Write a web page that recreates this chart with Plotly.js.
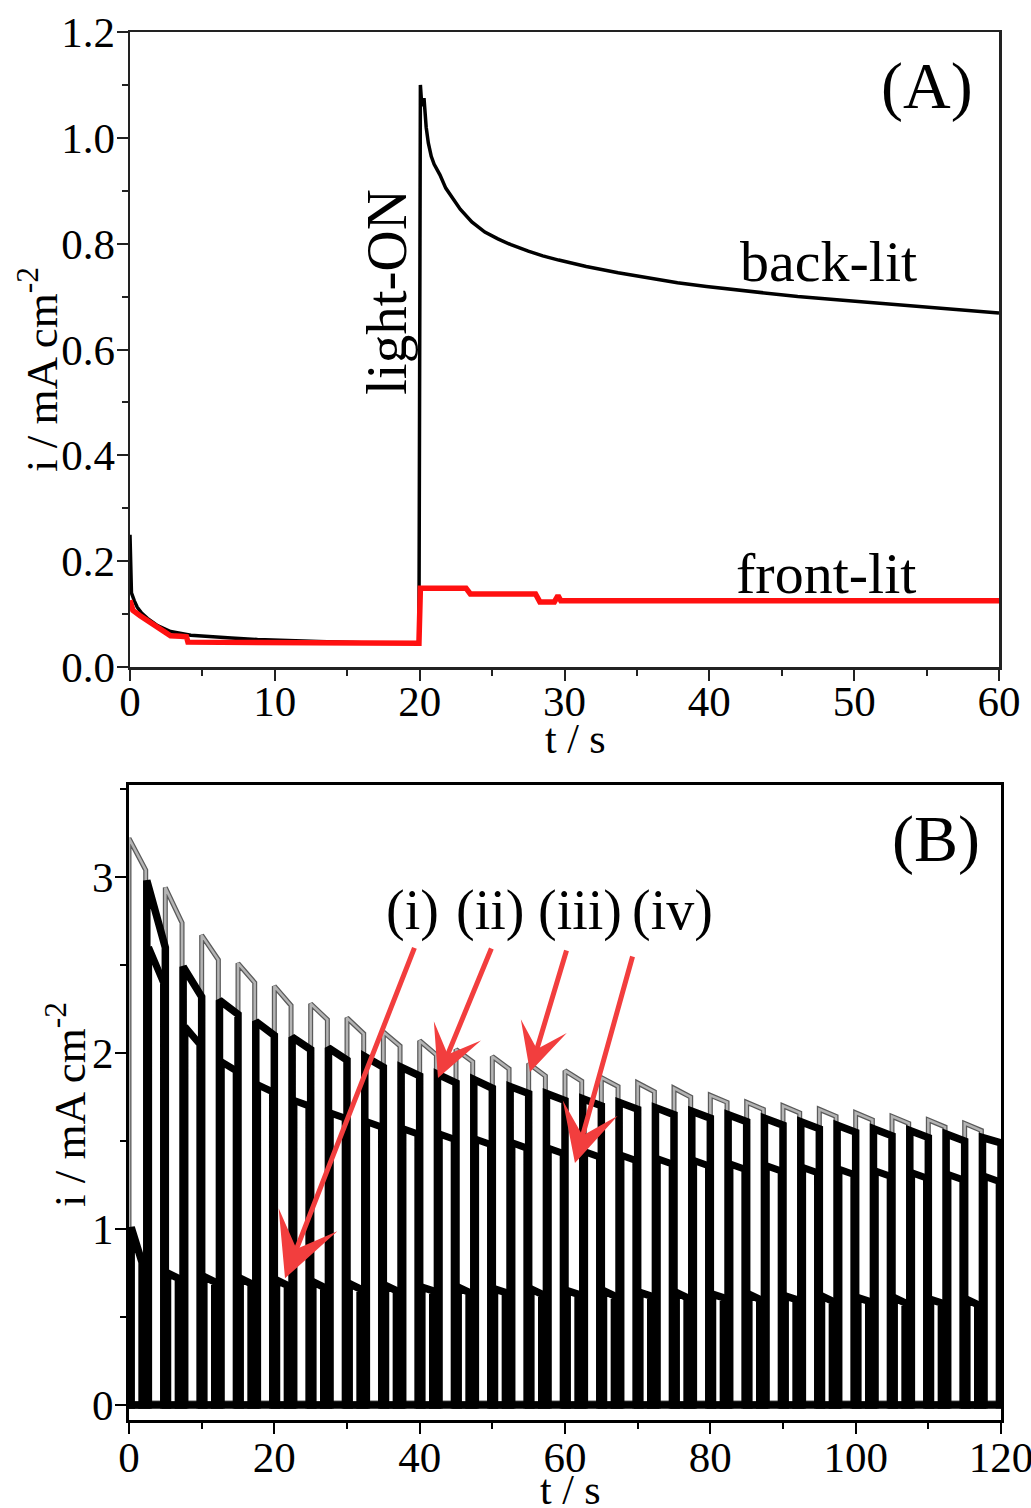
<!DOCTYPE html>
<html>
<head>
<meta charset="utf-8">
<script src="https://cdn.plot.ly/plotly-3.0.1.min.js"></script>
<style>
html,body{margin:0;padding:0;background:#fff;}
#chart{width:1031px;height:1508px;}
</style>
</head>
<body>
<div id="chart"></div>
<script>
// ---------- Panel A data ----------
const backT = [0, 0.1, 0.3, 0.5, 0.8, 1.2, 1.9, 2.8, 4.2, 5.5, 7, 8.8, 10.5, 13, 16, 19.95,
  20.05, 20.15, 20.3, 20.45, 20.6, 20.8, 21.0, 21.4, 21.8, 22.2, 22.8, 23.6, 24.5, 25.4, 26.3,
  27.5, 28.5, 29.6, 31.5, 33.7, 35.7, 37.8, 39.8, 41.9, 44.0, 46.1, 48.8, 51.5, 53.6, 55.7, 57.8, 60];
const backI = [0.25, 0.14, 0.125, 0.113, 0.102, 0.092, 0.078, 0.067, 0.060, 0.057, 0.055, 0.052, 0.050, 0.048, 0.046, 0.046,
  1.10, 1.06, 1.075, 1.02, 0.99, 0.965, 0.95, 0.93, 0.905, 0.888, 0.865, 0.841, 0.822, 0.809, 0.798,
  0.786, 0.777, 0.769, 0.757, 0.745, 0.735, 0.726, 0.719, 0.713, 0.706, 0.700, 0.694, 0.688, 0.683, 0.679, 0.674, 0.669];

const frontT = [0, 0.2, 0.7, 1.5, 2.3, 2.8, 3.5, 3.9, 4.0, 10, 19.95,
  20.05, 23.2, 23.5, 28.0, 28.3, 29.3, 29.55, 29.75, 30.0, 60];
const frontI = [0.126, 0.107, 0.097, 0.083, 0.066, 0.059, 0.058, 0.057, 0.047, 0.046, 0.045,
  0.149, 0.149, 0.138, 0.138, 0.123, 0.123, 0.135, 0.125, 0.125, 0.125];

// ---------- Panel B data (chopped light, 5 s period) ----------
const cycleStart = [0,5,10,15,20,25,30,35,40,45,50,55,60,65,70,75,80,85,90,95,100,105,110,115];
// (iii) grey
const iiiStart = [3.22,2.94,2.67,2.51,2.38,2.28,2.20,2.12,2.07,2.02,1.98,1.94,1.90,1.86,1.83,1.80,1.76,1.72,1.70,1.68,1.66,1.64,1.62,1.60];
const iiiEnd   = [3.04,2.74,2.53,2.40,2.27,2.19,2.11,2.04,1.99,1.95,1.91,1.87,1.84,1.81,1.78,1.75,1.72,1.68,1.66,1.64,1.62,1.60,1.58,1.56];
// (ii) black
const iiStart = [2.98,2.49,2.30,2.18,2.09,2.03,1.98,1.92,1.88,1.85,1.81,1.77,1.74,1.72,1.69,1.67,1.65,1.63,1.61,1.59,1.57,1.56,1.54,1.52];
const iiEnd   = [2.60,2.32,2.22,2.10,2.02,1.96,1.92,1.87,1.83,1.80,1.77,1.73,1.70,1.68,1.65,1.63,1.61,1.59,1.57,1.55,1.53,1.52,1.50,1.49];
// (iv) black
const ivStart = [2.60,2.15,1.95,1.82,1.73,1.66,1.61,1.57,1.54,1.51,1.49,1.46,1.44,1.42,1.40,1.39,1.37,1.36,1.35,1.34,1.33,1.32,1.31,1.30];
const ivEnd   = [2.40,2.05,1.90,1.78,1.70,1.63,1.58,1.54,1.51,1.48,1.46,1.43,1.41,1.39,1.37,1.36,1.34,1.33,1.32,1.31,1.30,1.29,1.28,1.27];
// (i) black
const iStart = [1.01,0.75,0.73,0.72,0.71,0.70,0.69,0.68,0.67,0.67,0.66,0.66,0.65,0.65,0.64,0.64,0.63,0.63,0.62,0.62,0.61,0.61,0.60,0.60];
const iEnd   = [0.81,0.72,0.70,0.69,0.68,0.67,0.66,0.65,0.65,0.64,0.64,0.63,0.63,0.62,0.62,0.61,0.61,0.60,0.60,0.59,0.59,0.58,0.58,0.57];

// timing of each series within a cycle (s)
const iiiDelay = 0.0, iiiLen = 2.3, iiiBase = 0.012;
const iiDelay = 2.45, iiLen = 2.55, iiBase = 0.0;
const ivDelay = 2.7,  ivLen = 2.05, ivBase = 0.0;
const iDelay = 0.3,   iLen = 1.5,   iBase = 0.0;

function pulseTrain(delay, len, tops, ends, base){
  const x=[0], y=[base];
  for(let k=0;k<cycleStart.length;k++){
    const t0 = cycleStart[k]+delay, t1 = t0+len;
    x.push(t0, t0, t1, t1);
    y.push(base, tops[k], ends[k], base);
  }
  x.push(120); y.push(base);
  return {x, y};
}

const pIII = pulseTrain(iiiDelay, iiiLen, iiiStart, iiiEnd, iiiBase);
const pII  = pulseTrain(iiDelay, iiLen, iiStart, iiEnd, iiBase);
const pIV  = pulseTrain(ivDelay, ivLen, ivStart, ivEnd, ivBase);
const pI   = pulseTrain(iDelay, iLen, iStart, iEnd, iBase);

const serif = '"Liberation Serif", "Times New Roman", serif';

const traces = [
  {x: backT, y: backI, xaxis:'x', yaxis:'y', mode:'lines', line:{color:'#000', width:3.5}, hoverinfo:'skip'},
  {x: frontT, y: frontI, xaxis:'x', yaxis:'y', mode:'lines', line:{color:'#ff1010', width:5.5}, hoverinfo:'skip'},

  {x: pIII.x, y: pIII.y, xaxis:'x2', yaxis:'y2', mode:'lines', line:{color:'#5a5a5a', width:5}, hoverinfo:'skip'},
  {x: pIII.x, y: pIII.y, xaxis:'x2', yaxis:'y2', mode:'lines', line:{color:'#b4b4b4', width:2.5}, hoverinfo:'skip'},
  {x: pI.x, y: pI.y, xaxis:'x2', yaxis:'y2', mode:'lines', line:{color:'#000', width:7.5}, hoverinfo:'skip'},
  {x: pIV.x, y: pIV.y, xaxis:'x2', yaxis:'y2', mode:'lines', line:{color:'#000', width:7}, hoverinfo:'skip'},
  {x: pII.x, y: pII.y, xaxis:'x2', yaxis:'y2', mode:'lines', line:{color:'#000', width:7.5}, hoverinfo:'skip'}
];

const axCommon = {
  showline:true, mirror:true, linecolor:'#222', linewidth:2.5,
  ticks:'outside', ticklen:11, tickwidth:2, tickcolor:'#222',
  showgrid:false, zeroline:false, ticklabeloverflow:'allow',
  tickfont:{family:serif, size:43, color:'#000'},
  fixedrange:true
};

const W = 1031, H = 1508;
const px = v => v / W;
const py = v => 1 - v / H;

const layout = {
  width: W, height: H,
  margin:{l:0, r:0, t:0, b:0},
  paper_bgcolor:'#fff', plot_bgcolor:'#fff',
  showlegend:false,
  xaxis: Object.assign({}, axCommon, {
    domain:[px(130), px(999)], anchor:'y', range:[0,60], dtick:10, tick0:0, ticklabelstandoff:-16,
    minor:{ticks:'outside', ticklen:6, tickwidth:2, tickcolor:'#222', dtick:5, showgrid:false}
  }),
  yaxis: Object.assign({}, axCommon, {
    domain:[py(667), py(32)], anchor:'x', range:[0,1.2], dtick:0.2, tick0:0, tickformat:'.1f', ticklabelstandoff:-7,
    minor:{ticks:'outside', ticklen:6, tickwidth:2, tickcolor:'#222', dtick:0.1, showgrid:false}
  }),
  xaxis2: Object.assign({}, axCommon, {
    domain:[px(129), px(1001)], anchor:'y2', range:[0,120], dtick:20, tick0:0, ticklabelstandoff:-14,
    linecolor:'#000', linewidth:3, tickcolor:'#000',
    minor:{ticks:'outside', ticklen:6, tickwidth:2, tickcolor:'#000', dtick:10, showgrid:false}
  }),
  yaxis2: Object.assign({}, axCommon, {
    domain:[py(1420), py(785)], anchor:'x2', range:[-0.085,3.523], dtick:1, tick0:0, ticklabelstandoff:-7,
    linecolor:'#000', linewidth:3, tickcolor:'#000',
    minor:{ticks:'outside', ticklen:6, tickwidth:2, tickcolor:'#000', dtick:0.5, showgrid:false}
  }),
  annotations: [
    {text:'i / mA cm<sup>-2</sup>', xref:'paper', yref:'paper', x:px(38), y:py(370), textangle:-90,
     showarrow:false, xanchor:'center', yanchor:'middle', font:{family:serif, size:45, color:'#000'}},
    {text:'t / s', xref:'paper', yref:'paper', x:px(575), y:py(739),
     showarrow:false, xanchor:'center', yanchor:'middle', font:{family:serif, size:42, color:'#000'}},
    {text:'light-ON', xref:'paper', yref:'paper', x:px(386), y:py(292), textangle:-90,
     showarrow:false, xanchor:'center', yanchor:'middle', font:{family:serif, size:57, color:'#000'}},
    {text:'back-lit', xref:'paper', yref:'paper', x:px(828), y:py(262),
     showarrow:false, xanchor:'center', yanchor:'middle', font:{family:serif, size:58, color:'#000'}},
    {text:'front-lit', xref:'paper', yref:'paper', x:px(826), y:py(573),
     showarrow:false, xanchor:'center', yanchor:'middle', font:{family:serif, size:58, color:'#000'}},
    {text:'(A)', xref:'paper', yref:'paper', x:px(927), y:py(86),
     showarrow:false, xanchor:'center', yanchor:'middle', font:{family:serif, size:66, color:'#000'}},

    {text:'i / mA cm<sup>-2</sup>', xref:'paper', yref:'paper', x:px(66), y:py(1105), textangle:-90,
     showarrow:false, xanchor:'center', yanchor:'middle', font:{family:serif, size:45, color:'#000'}},
    {text:'t / s', xref:'paper', yref:'paper', x:px(570), y:py(1490),
     showarrow:false, xanchor:'center', yanchor:'middle', font:{family:serif, size:42, color:'#000'}},
    {text:'(B)', xref:'paper', yref:'paper', x:px(936), y:py(839),
     showarrow:false, xanchor:'center', yanchor:'middle', font:{family:serif, size:66, color:'#000'}},
    {text:'(i)', xref:'paper', yref:'paper', x:px(412), y:py(910),
     showarrow:false, xanchor:'center', yanchor:'middle', font:{family:serif, size:56, color:'#000'}},
    {text:'(ii)', xref:'paper', yref:'paper', x:px(490), y:py(910),
     showarrow:false, xanchor:'center', yanchor:'middle', font:{family:serif, size:56, color:'#000'}},
    {text:'(iii)', xref:'paper', yref:'paper', x:px(580), y:py(910),
     showarrow:false, xanchor:'center', yanchor:'middle', font:{family:serif, size:56, color:'#000'}},
    {text:'(iv)', xref:'paper', yref:'paper', x:px(672), y:py(910),
     showarrow:false, xanchor:'center', yanchor:'middle', font:{family:serif, size:56, color:'#000'}},

    {text:'', xref:'x2', yref:'y2', x:21.47, y:0.72, ax:130, ay:-332, showarrow:true,
     arrowhead:3, arrowsize:2.1, arrowwidth:5, arrowcolor:'#f23e3e', standoff:0},
    {text:'', xref:'x2', yref:'y2', x:42.52, y:1.858, ax:54, ay:-131, showarrow:true,
     arrowhead:3, arrowsize:1.7, arrowwidth:5, arrowcolor:'#f23e3e', standoff:0},
    {text:'', xref:'x2', yref:'y2', x:55.18, y:1.892, ax:37, ay:-123, showarrow:true,
     arrowhead:3, arrowsize:1.6, arrowwidth:5, arrowcolor:'#f23e3e', standoff:0},
    {text:'', xref:'x2', yref:'y2', x:61.37, y:1.375, ax:58, ay:-208, showarrow:true,
     arrowhead:3, arrowsize:1.9, arrowwidth:5, arrowcolor:'#f23e3e', standoff:0}
  ]
};

Plotly.newPlot('chart', traces, layout, {displayModeBar:false, staticPlot:true});
</script>
</body>
</html>
